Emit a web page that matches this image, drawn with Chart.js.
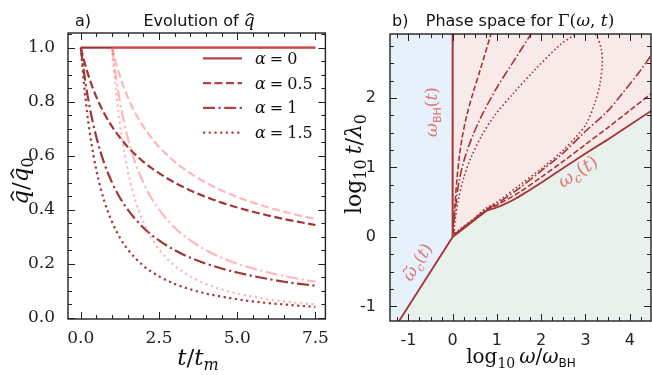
<!DOCTYPE html>
<html>
<head>
<meta charset="utf-8">
<script src="https://cdn.jsdelivr.net/npm/chart.js@4.4.1/dist/chart.umd.min.js"></script>
<style>
html, body { margin:0; padding:0; background:#fff; }
#wrap { position:relative; width:652px; height:375px; overflow:hidden; }
#left { position:absolute; left:0; top:0; }
#right { position:absolute; left:330px; top:0; }
</style>
</head>
<body>
<div id="wrap">
<canvas id="left" width="330" height="375"></canvas>
<canvas id="right" width="322" height="375"></canvas>
</div>
<script>
// ---- panel a) data ----
var tDark = [0, 0.1, 0.2, 0.3, 0.5, 0.75, 1, 1.25, 1.5, 2, 2.5, 3, 3.5, 4, 4.5, 5, 5.5, 6, 6.5, 7, 7.5];
var qDark05 = [1, 0.953, 0.913, 0.877, 0.816, 0.756, 0.707, 0.667, 0.632, 0.577, 0.535, 0.5, 0.471, 0.447, 0.426, 0.408, 0.392, 0.378, 0.365, 0.354, 0.343];
var qDark1 = [1, 0.909, 0.833, 0.769, 0.667, 0.571, 0.5, 0.444, 0.4, 0.333, 0.286, 0.25, 0.222, 0.2, 0.182, 0.167, 0.154, 0.143, 0.133, 0.125, 0.118];
var qDark15 = [1, 0.867, 0.761, 0.675, 0.544, 0.432, 0.354, 0.296, 0.253, 0.192, 0.153, 0.125, 0.105, 0.089, 0.078, 0.068, 0.060, 0.054, 0.049, 0.044, 0.040];
var tPink = [1, 1.1, 1.2, 1.3, 1.5, 1.75, 2, 2.25, 2.5, 3, 3.5, 4, 4.5, 5, 5.5, 6, 6.5, 7, 7.5];
var qPink05 = [1, 0.953, 0.913, 0.877, 0.816, 0.756, 0.707, 0.667, 0.632, 0.577, 0.535, 0.5, 0.471, 0.447, 0.426, 0.408, 0.392, 0.378, 0.365];
var qPink1 = [1, 0.909, 0.833, 0.769, 0.667, 0.571, 0.5, 0.444, 0.4, 0.333, 0.286, 0.25, 0.222, 0.2, 0.182, 0.167, 0.154, 0.143, 0.133];
var qPink15 = [1, 0.867, 0.761, 0.675, 0.544, 0.432, 0.354, 0.296, 0.253, 0.192, 0.153, 0.125, 0.105, 0.089, 0.078, 0.068, 0.060, 0.054, 0.049];
var tFlatDark = [0, 7.5];
var tFlatPink = [1, 7.5];
var qFlat = [1, 1];
var alphaLabels = ['0', '0.5', '1', '1.5'];
var qTicksX = [0, 2.5, 5, 7.5];
var qTicksY = [0, 0.2, 0.4, 0.6, 0.8, 1.0];

// ---- panel b) data (log10 omega / omega_BH, log10 t / lambda0) ----
var wTildeX = [-1.5, 0];
var wTildeY = [-1.5, 0];
var wcX = [0, 0.75, 0.85, 0.95, 1.1, 1.3, 1.5, 1.75, 2, 2.5, 3, 3.5, 4, 4.5];
var wcY = [0, 0.37, 0.395, 0.415, 0.45, 0.51, 0.58, 0.68, 0.78, 0.99, 1.2, 1.4, 1.61, 1.82];
var wBHX = [0, 0];
var wBHY = [0, 3];
// contours: upper branch from the top down to the origin, then out along omega_c
var c05X = [0.88, 0.62, 0.45, 0.32, 0.22, 0.15, 0.1, 0.05, 0.02, 0.2, 0.45, 0.77, 1.0, 1.5, 2.0, 2.5, 3.0, 3.5, 4.0, 4.5, 4.7];
var c05Y = [2.95, 2.4, 2.05, 1.75, 1.45, 1.15, 0.85, 0.45, 0.04, 0.11, 0.23, 0.39, 0.46, 0.64, 0.86, 1.09, 1.33, 1.57, 1.82, 2.07, 2.17];
var c1X = [1.8, 1.35, 1.0, 0.66, 0.45, 0.28, 0.16, 0.08, 0.03, 0.2, 0.45, 0.77, 1.0, 1.5, 2.0, 2.5, 3.0, 3.5, 3.85, 4.2, 4.5, 4.7];
var c1Y = [2.95, 2.5, 2.15, 1.75, 1.45, 1.15, 0.85, 0.5, 0.05, 0.12, 0.24, 0.40, 0.48, 0.70, 0.95, 1.21, 1.52, 1.81, 2.08, 2.36, 2.63, 2.85];
var c15X = [3.1, 2.8, 2.42, 1.85, 1.35, 0.95, 0.65, 0.42, 0.25, 0.12, 0.04, 0.2, 0.45, 0.77, 1.0, 1.5, 2.0, 2.5, 2.8, 3.02, 3.21, 3.33, 3.38, 3.36, 3.25, 3.1];
var c15Y = [2.98, 2.92, 2.76, 2.4, 2.05, 1.75, 1.45, 1.15, 0.85, 0.5, 0.06, 0.13, 0.25, 0.42, 0.50, 0.74, 0.98, 1.25, 1.45, 1.63, 1.92, 2.21, 2.49, 2.69, 2.90, 2.98];
var bTicksX = [-1, 0, 1, 2, 3, 4];
var bTicksY = [-1, 0, 1, 2];

// ---- styles ----
var DARK = '#a33535';
var PINK = 'rgba(255,95,95,0.45)';
var LEG = '#b04444';
var LABEL = '#e37474';
var SER = '"DejaVu Serif"', SAN = '"DejaVu Sans"';

function pts(xs, ys){
	return xs.map(function(x, i){ return {x: x, y: ys[i]}; });
}

function line(xs, ys, color, dash, width, extra){
	var d = { data: pts(xs, ys), borderColor: color, borderWidth: width, borderDash: dash, fill: false, pointRadius: 0 };
	return Object.assign(d, extra || {});
}

// draw a run of text pieces (with subscripts and accents)
function mathText(ctx, parts, x, y, align, angle, color){
	ctx.save();
	ctx.translate(x, y);
	if (angle) ctx.rotate(angle);
	ctx.fillStyle = color;
	ctx.strokeStyle = color;
	ctx.textBaseline = 'alphabetic';
	var w = 0;
	parts.forEach(function(p){
		ctx.font = p.f;
		p.w = ctx.measureText(p.t).width;
		w += p.w + (p.gap || 0);
	});
	var cx = align === 'center' ? -w / 2 : (align === 'right' ? -w : 0);
	parts.forEach(function(p){
		ctx.font = p.f;
		ctx.fillText(p.t, cx, p.dy || 0);
		if (p.acc) accent(ctx, p.acc, cx + p.w / 2 + p.s * 0.06, (p.dy || 0) - p.s * 0.74, p.s);
		cx += p.w + (p.gap || 0);
	});
	ctx.restore();
}

function accent(ctx, kind, cx, yt, s){
	ctx.beginPath();
	ctx.lineWidth = s * 0.065;
	if (kind === 'hat'){
		ctx.moveTo(cx - s * 0.2, yt + s * 0.12);
		ctx.lineTo(cx, yt);
		ctx.lineTo(cx + s * 0.2, yt + s * 0.12);
	} else {
		ctx.moveTo(cx - s * 0.22, yt + s * 0.06);
		ctx.bezierCurveTo(cx - s * 0.12, yt - s * 0.06, cx - s * 0.04, yt, cx, yt + s * 0.03);
		ctx.bezierCurveTo(cx + s * 0.06, yt + s * 0.08, cx + s * 0.14, yt + s * 0.08, cx + s * 0.22, yt - s * 0.03);
	}
	ctx.stroke();
}

function it(t, s, o){ return Object.assign({t: t, f: 'italic ' + s + 'px ' + SER, s: s}, o || {}); }
function rm(t, s, o){ return Object.assign({t: t, f: s + 'px ' + SER, s: s}, o || {}); }
function sf(t, s, o){ return Object.assign({t: t, f: s + 'px ' + SAN, s: s}, o || {}); }

// inward ticks on all four sides plus the frame
var frame = {
	id: 'frame',
	afterDraw: function(chart, args, o){
		var ctx = chart.ctx, a = chart.chartArea, sx = chart.scales.x, sy = chart.scales.y;
		function steps(step, min, max){
			var out = [];
			for (var k = Math.ceil(min / step - 1e-9); k * step <= max + 1e-9; k++) out.push(k * step);
			return out;
		}
		function isMajor(list, v){
			return list.some(function(m){ return Math.abs(m - v) < 1e-6; });
		}
		ctx.save();
		ctx.strokeStyle = '#222';
		ctx.lineWidth = 1;
		ctx.beginPath();
		steps(o.xMinor, sx.min, sx.max).forEach(function(v){
			var px = Math.round(sx.getPixelForValue(v)) + 0.5;
			var L = isMajor(o.xMajor, v) ? 7 : 4;
			ctx.moveTo(px, a.bottom); ctx.lineTo(px, a.bottom - L);
			ctx.moveTo(px, a.top); ctx.lineTo(px, a.top + L);
		});
		steps(o.yMinor, sy.min, sy.max).forEach(function(v){
			var py = Math.round(sy.getPixelForValue(v)) + 0.5;
			var L = isMajor(o.yMajor, v) ? 7 : 4;
			ctx.moveTo(a.left, py); ctx.lineTo(a.left + L, py);
			ctx.moveTo(a.right, py); ctx.lineTo(a.right - L, py);
		});
		ctx.stroke();
		ctx.lineWidth = 1.4;
		ctx.strokeRect(a.left, a.top, a.right - a.left, a.bottom - a.top);
		ctx.restore();
	}
};

var DASH_A = [8, 3.5], DASHDOT_A = [12, 3.5, 2.2, 3.5], DOT_A = [2.2, 3.5];
var legendDash = [[], DASH_A, DASHDOT_A, DOT_A];

var leftDecor = {
	id: 'leftDecor',
	afterDraw: function(chart){
		var ctx = chart.ctx;
		// title
		mathText(ctx, [sf('a)', 16)], 75, 26, 'left', 0, '#111');
		mathText(ctx, [sf('Evolution of ', 16), it('q', 17, {acc: 'hat'})], 199, 26, 'center', 0, '#111');
		// legend
		alphaLabels.forEach(function(v, i){
			var y = 58.3 + i * 24.8;
			ctx.save();
			ctx.strokeStyle = LEG;
			ctx.lineWidth = 2.2;
			ctx.setLineDash(legendDash[i]);
			ctx.beginPath();
			ctx.moveTo(203, y); ctx.lineTo(242, y);
			ctx.stroke();
			ctx.restore();
			mathText(ctx, [it('α', 16, {gap: 4}), rm('=', 16, {gap: 4}), rm(v, 16)], 255, y + 5.5, 'left', 0, '#111');
		});
		// axis labels
		mathText(ctx, [it('t', 23), rm('/', 23), it('t', 23), it('m', 16, {dy: 5})], 198, 365, 'center', 0, '#111');
		mathText(ctx, [it('q', 23, {acc: 'hat'}), rm('/', 23), it('q', 23, {acc: 'hat'}), rm('0', 16, {dy: 5})], 28, 181, 'center', -Math.PI / 2, '#111');
	}
};

var rightDecor = {
	id: 'rightDecor',
	afterDraw: function(chart){
		var ctx = chart.ctx;
		mathText(ctx, [sf('b)', 16)], 62, 26, 'left', 0, '#111');
		mathText(ctx, [sf('Phase space for ', 16), rm('Γ(', 17), it('ω', 17), rm(', ', 17), it('t', 17), rm(')', 17)], 190, 26, 'center', 0, '#111');
		mathText(ctx, [rm('log', 20), rm('10', 14, {dy: 5, gap: 4}), it('ω', 20), rm('/', 20), it('ω', 20), sf('BH', 12, {dy: 4})], 191, 363, 'center', 0, '#111');
		mathText(ctx, [rm('log', 22), rm('10', 16, {dy: 5, gap: 5}), it('t', 22), rm('/', 22), it('λ', 22), rm('0', 16, {dy: 5})], 31, 164, 'center', -Math.PI / 2, '#111');
		// region labels
		mathText(ctx, [it('ω', 17), sf('BH', 11, {dy: 4}), rm('(', 17), it('t', 17), rm(')', 17)], 107, 112, 'center', -Math.PI / 2, LABEL);
		mathText(ctx, [it('ω', 18), it('c', 13, {dy: 4}), rm('(', 18), it('t', 18), rm(')', 18)], 251, 176.5, 'center', -33 * Math.PI / 180, LABEL);
		mathText(ctx, [it('ω', 17, {acc: 'tilde'}), it('c', 12, {dy: 4}), rm('(', 17), it('t', 17), rm(')', 17)], 92, 265, 'center', -57.5 * Math.PI / 180, LABEL);
	}
};

function tickSet(list){
	return function(s){ s.ticks = list.map(function(v){ return {value: v}; }); };
}

// ---- chart a) ----
new Chart(document.getElementById('left'), {
	type: 'line',
	data: { datasets: [
		line(tFlatPink, qFlat, PINK, [], 2.2),
		line(tPink, qPink05, PINK, DASH_A, 2.2),
		line(tPink, qPink1, PINK, DASHDOT_A, 2.2),
		line(tPink, qPink15, PINK, DOT_A, 2.2),
		line(tFlatDark, qFlat, DARK, [], 2.2),
		line(tDark, qDark05, DARK, DASH_A, 2.2),
		line(tDark, qDark1, DARK, DASHDOT_A, 2.2),
		line(tDark, qDark15, DARK, DOT_A, 2.2)
	]},
	options: {
		responsive: false,
		animation: false,
		devicePixelRatio: 1,
		layout: { padding: { left: 0, right: 2, top: 33, bottom: 0 } },
		elements: { line: { tension: 0, cubicInterpolationMode: 'monotone' } },
		plugins: {
			legend: { display: false },
			tooltip: { enabled: false },
			frame: { xMinor: 0.5, xMajor: qTicksX, yMinor: 0.05, yMajor: qTicksY }
		},
		scales: {
			x: {
				type: 'linear', min: -0.41, max: 7.82,
				afterFit: function(s){ s.height = 56; },
				afterBuildTicks: tickSet(qTicksX),
				grid: { display: false }, border: { display: false },
				ticks: { font: { family: 'DejaVu Serif', size: 17 }, color: '#222', padding: 1, maxRotation: 0, autoSkip: false,
					callback: function(v){ return v.toFixed(1); } }
			},
			y: {
				type: 'linear', min: -0.005, max: 1.054,
				afterFit: function(s){ s.width = 68; },
				afterBuildTicks: tickSet(qTicksY),
				grid: { display: false }, border: { display: false },
				ticks: { font: { family: 'DejaVu Serif', size: 17 }, color: '#222', padding: 5, autoSkip: false,
					callback: function(v){ return v.toFixed(1); } }
			}
		}
	},
	plugins: [frame, leftDecor]
});

// ---- chart b) ----
var DASH_B = [5.6, 2.4], DASHDOT_B = [9, 2.4, 1.6, 2.4], DOT_B = [1.6, 2.4];
var boundX = wTildeX.concat(wcX.slice(1));
var boundY = wTildeY.concat(wcY.slice(1));

new Chart(document.getElementById('right'), {
	type: 'line',
	data: { datasets: [
		line(wBHX, wBHY, DARK, [], 2),
		line(c15X, c15Y, DARK, DOT_B, 1.6, { tension: 0.3, cubicInterpolationMode: 'default' }),
		line(c1X, c1Y, DARK, DASHDOT_B, 1.6, { tension: 0.3, cubicInterpolationMode: 'default' }),
		line(c05X, c05Y, DARK, DASH_B, 1.6, { tension: 0.3, cubicInterpolationMode: 'default' }),
		line(boundX, boundY, DARK, [], 1.8, { fill: 'start', backgroundColor: '#e9f1ec' }),
		line(wcX, wcY, 'transparent', [], 0, { fill: 'end', backgroundColor: '#f9eaea' }),
		line(wTildeX, wTildeY, 'transparent', [], 0, { fill: 'end', backgroundColor: '#e6f1fb' })
	]},
	options: {
		responsive: false,
		animation: false,
		devicePixelRatio: 1,
		layout: { padding: { left: 0, right: 1, top: 34, bottom: 0 } },
		elements: { line: { tension: 0 } },
		plugins: {
			legend: { display: false },
			tooltip: { enabled: false },
			frame: { xMinor: 0.25, xMajor: bTicksX, yMinor: 0.25, yMajor: bTicksY }
		},
		scales: {
			x: {
				type: 'linear', min: -1.415, max: 4.48,
				afterFit: function(s){ s.height = 54; },
				afterBuildTicks: tickSet(bTicksX),
				grid: { display: false }, border: { display: false },
				ticks: { font: { family: 'DejaVu Sans', size: 16 }, color: '#222', padding: 2, maxRotation: 0, autoSkip: false }
			},
			y: {
				type: 'linear', min: -1.21, max: 2.92,
				afterFit: function(s){ s.width = 60; },
				afterBuildTicks: tickSet(bTicksY),
				grid: { display: false }, border: { display: false },
				ticks: { font: { family: 'DejaVu Sans', size: 16 }, color: '#222', padding: 6, autoSkip: false }
			}
		}
	},
	plugins: [frame, rightDecor]
});
</script>
</body>
</html>
